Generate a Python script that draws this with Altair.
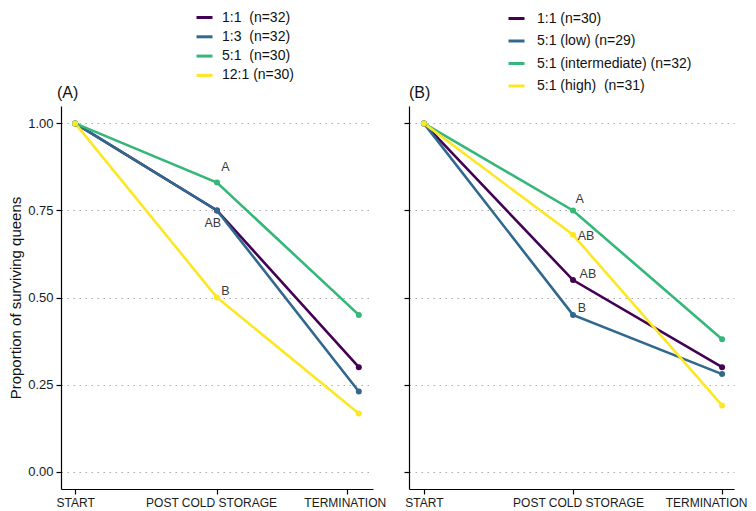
import altair as alt
import pandas as pd

# ---- data ----
stages = ["START", "POST COLD STORAGE", "TERMINATION"]
stage_x = [1, 2, 3]

# Panel A
groups_a = ["\u00a01:1\u00a0\u00a0(n=32)", "\u00a01:3\u00a0\u00a0(n=32)", "\u00a05:1\u00a0\u00a0(n=30)", "12:1 (n=30)"]
a_1_1 = [1.00, 0.75, 0.30]
a_1_3 = [1.00, 0.75, 0.23]
a_5_1 = [1.00, 0.83, 0.45]
a_12_1 = [1.00, 0.50, 0.167]
letters_a = ["A", "AB", "B"]
letters_a_x = [2.06, 1.97, 2.06]
letters_a_y = [0.876, 0.713, 0.52]
xticks_a = [1, 2, 2.915]

# Panel B
groups_b = ["1:1 (n=30)", "5:1 (low) (n=29)", "5:1 (intermediate) (n=32)", "5:1 (high)\u00a0\u00a0(n=31)"]
b_1_1 = [1.00, 0.55, 0.30]
b_low = [1.00, 0.45, 0.28]
b_int = [1.00, 0.75, 0.38]
b_high = [1.00, 0.68, 0.19]
letters_b = ["A", "AB", "AB", "B"]
letters_b_x = [2.044, 2.088, 2.10, 2.06]
letters_b_y = [0.782, 0.677, 0.568, 0.469]
xticks_b = [1, 2, 3]

yticks = [0.0, 0.25, 0.50, 0.75, 1.00]
colors = ["#440154", "#31688E", "#35B779", "#FDE725"]


def long_df(groups, series):
    rows = []
    for g, vals in zip(groups, series):
        for x, v in zip(stage_x, vals):
            rows.append({"group": g, "x": x, "value": v})
    return pd.DataFrame(rows)


df_a = long_df(groups_a, [a_1_1, a_1_3, a_5_1, a_12_1])
df_b = long_df(groups_b, [b_1_1, b_low, b_int, b_high])
ann_a = pd.DataFrame({"label": letters_a, "x": letters_a_x, "value": letters_a_y})
ann_b = pd.DataFrame({"label": letters_b, "x": letters_b_x, "value": letters_b_y})

label_expr = (
    f"datum.value < 1.5 ? '{stages[0]}' : datum.value < 2.5 ? '{stages[1]}' : '{stages[2]}'"
)


def panel(df, ann, groups, title, title_dx, xdomain, xticks, show_ylabels, leg, width,
          off_mid, off_end):
    color = alt.Color(
        "group:N",
        sort=groups,
        scale=alt.Scale(domain=groups, range=colors),
        legend=alt.Legend(
            orient="none", title=None, symbolType="stroke", symbolSize=256,
            symbolStrokeWidth=3, labelFontSize=14, labelColor="#111",
            padding=0, **leg,
        ),
    )
    x = alt.X(
        "x:Q",
        scale=alt.Scale(domain=xdomain, nice=False, zero=False),
        axis=alt.Axis(
            values=xticks, labelExpr=label_expr, grid=False, title=None,
            labelFlush=False, labelOverlap=False, labelFontSize=12,
            labelColor="#1a1a1a", tickSize=5, labelPadding=3,
            labelOffset={
                "condition": [
                    {"test": "datum.value > 2.5", "value": off_end},
                    {"test": "datum.value > 1.5", "value": off_mid},
                ],
                "value": 0,
            },
        ),
    )
    yax = alt.Axis(
        values=yticks, format=".2f", grid=True, gridDash=[1.5, 4.5],
        gridColor="#aaaaaa", gridWidth=1.2, tickSize=5,
        labels=show_ylabels, labelFontSize=13, labelColor="#1a1a1a", labelPadding=3,
        title="Proportion of surviving queens" if show_ylabels else None,
        titleFontSize=15, titleFontWeight="normal", titleColor="#111", titlePadding=4,
    )
    y = alt.Y("value:Q", scale=alt.Scale(domain=[-0.05, 1.05], nice=False, zero=False), axis=yax)
    base = alt.Chart(df)
    lines = base.mark_line(strokeWidth=2.6).encode(x=x, y=y, color=color, detail="group:N")
    pts = base.mark_circle(size=36, opacity=1).encode(x=x, y=y, color=color)
    txt = alt.Chart(ann).mark_text(fontSize=12.5, color="#3a3a3a", baseline="middle", align="center").encode(
        x=alt.X("x:Q"), y=alt.Y("value:Q"), text="label:N"
    )
    ttl = alt.Chart(pd.DataFrame({"t": [title]})).mark_text(
        fontSize=16, color="#111", align="left", baseline="middle"
    ).encode(text="t:N", x=alt.value(title_dx), y=alt.value(-13))
    return alt.layer(lines, pts, txt, ttl).properties(width=width, height=383)


pA = panel(df_a, ann_a, groups_a, "(A)", -4, [0.9, 3.1], xticks_a, True,
           dict(legendX=134, legendY=-98, labelOffset=8, rowPadding=2.3), 312, -6, -2)
pB = panel(df_b, ann_b, groups_b, "(B)", 0, [0.9, 3.08], xticks_b, False,
           dict(legendX=98, legendY=-97, labelOffset=11, rowPadding=5.5), 325, 5, -16)

chart = (
    alt.hconcat(pA, pB, spacing=36, bounds="flush")
    .resolve_scale(color="independent", x="independent")
    .configure(font="Liberation Sans", padding={"left": 0, "top": 0, "right": 0, "bottom": 0})
    .configure_view(stroke=None)
    .configure_axis(domainColor="black", tickColor="black", domainWidth=1.2, tickWidth=1.2)
)

chart.save("out.html", embed_options={"renderer": "svg", "actions": False})
